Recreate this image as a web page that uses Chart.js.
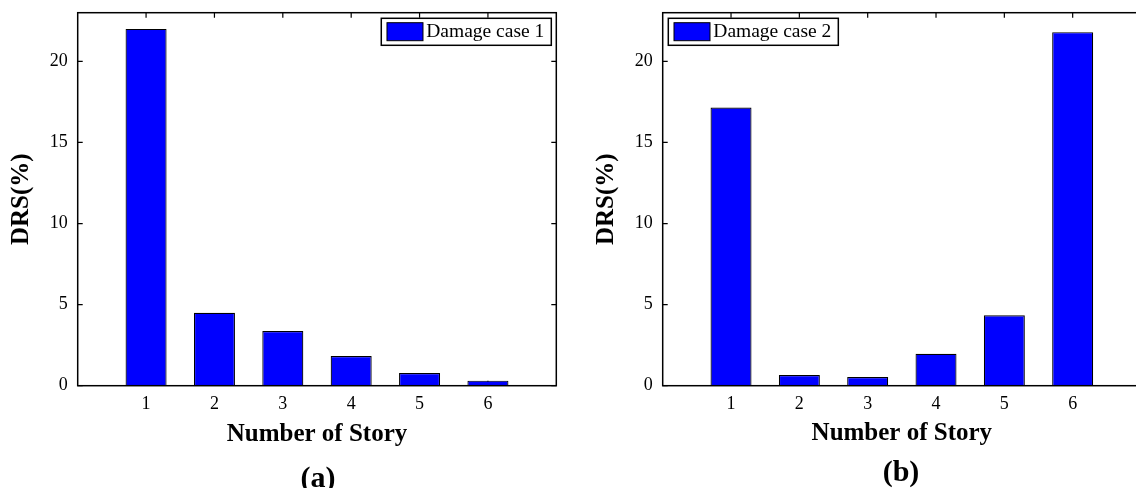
<!DOCTYPE html>
<html><head><meta charset="utf-8">
<script src="https://cdn.jsdelivr.net/npm/chart.js@4"></script>
<style>
html,body{margin:0;padding:0;background:#fff;width:1136px;height:488px;overflow:hidden;position:relative;}
#wrapA{position:absolute;left:0;top:0;width:570px;height:488px;}
#wrapB{position:absolute;left:570px;top:0;width:566px;height:488px;overflow:hidden;}
canvas{display:block;}
.cap{position:absolute;font:bold 30px 'Liberation Serif','Times New Roman',serif;line-height:30px;transform:translateX(-50%);white-space:nowrap;color:#000;}
</style></head><body>
<div id="wrapA"><canvas id="cA" width="570" height="488"></canvas></div>
<div id="wrapB"><canvas id="cB" width="580" height="488"></canvas></div>
<div class="cap" style="left:318px;top:462px">(a)</div>
<div class="cap" style="left:901px;top:456px">(b)</div>
<script>
const categories = [1, 2, 3, 4, 5, 6];
const case1Values = [22.0, 4.5, 3.37, 1.83, 0.78, 0.31];
const case2Values = [17.15, 0.66, 0.54, 1.97, 4.34, 21.8];
const yTicks = [0, 5, 10, 15, 20];
const seriesLabels = ['Damage case 1', 'Damage case 2'];
const xTitle = 'Number of Story';
const yTitle = 'DRS(%)';

const FONT = "'Liberation Serif','Times New Roman',serif";

const framePlugin = {
  id: 'frame',
  beforeDatasetsDraw(chart) {
    const {ctx, chartArea: a, scales: {x, y}} = chart;
    const L = 5;
    ctx.save();
    ctx.strokeStyle = '#000';
    ctx.lineWidth = 1.2;
    ctx.beginPath();
    categories.forEach(v => {
      const px = x.getPixelForValue(v);
      ctx.moveTo(px, a.bottom); ctx.lineTo(px, a.bottom - L);
      ctx.moveTo(px, a.top); ctx.lineTo(px, a.top + L);
    });
    yTicks.forEach(v => {
      const py = y.getPixelForValue(v);
      ctx.moveTo(a.left, py); ctx.lineTo(a.left + L, py);
      ctx.moveTo(a.right, py); ctx.lineTo(a.right - L, py);
    });
    ctx.stroke();
    ctx.restore();
  },
  afterDatasetsDraw(chart, args, opts) {
    const {ctx, chartArea: a} = chart;
    ctx.save();
    ctx.strokeStyle = '#000';
    ctx.lineWidth = 1.5;
    ctx.strokeRect(a.left, a.top, a.right - a.left, a.bottom - a.top);
    const ds = chart.data.datasets[0];
    ctx.font = "19.5px " + FONT;
    const tw = ctx.measureText(ds.label).width;
    const bw = 45 + tw + 7, bh = 27;
    const bx = opts.side === 'right' ? a.right - 5 - bw : a.left + 5.6;
    const by = a.top + 5.6;
    ctx.fillStyle = '#fff';
    ctx.fillRect(bx, by, bw, bh);
    ctx.lineWidth = 1.5;
    ctx.strokeRect(bx, by, bw, bh);
    ctx.fillStyle = ds.backgroundColor;
    ctx.fillRect(bx + 5.7, by + 4.4, 36, 18);
    ctx.lineWidth = 1;
    ctx.strokeRect(bx + 5.7, by + 4.4, 36, 18);
    ctx.fillStyle = '#000';
    ctx.textBaseline = 'middle';
    ctx.textAlign = 'left';
    ctx.fillText(ds.label, bx + 45, by + bh / 2);
    ctx.restore();
  }
};

function zeroPad(s) { s.paddingLeft = 0; s.paddingRight = 0; s.paddingTop = 0; s.paddingBottom = 0; }

function makeChart(id, values, label, o) {
  return new Chart(document.getElementById(id), {
    type: 'bar',
    data: {
      datasets: [{
        label: label,
        data: categories.map((c, i) => ({x: c, y: values[i]})),
        backgroundColor: '#0000ff',
        borderColor: '#000',
        borderWidth: 1.2,
        barPercentage: 0.6,
        categoryPercentage: 1
      }]
    },
    options: {
      responsive: false,
      animation: false,
      devicePixelRatio: 1,
      layout: {padding: {top: 12.7, right: o.padRight, bottom: 0, left: 0}},
      plugins: {legend: {display: false}, tooltip: {enabled: false}, frame: {side: o.side}},
      scales: {
        x: {
          type: 'linear', min: 0, max: 7, offset: false,
          grid: {display: false, drawTicks: false, offset: false}, border: {display: false},
          afterBuildTicks: s => { s.ticks = categories.map(v => ({value: v})); },
          afterFit: s => { s.height = 488 - 385.7; zeroPad(s); },
          ticks: {padding: 8, color: '#000', font: {family: FONT, size: 18}, callback: v => String(v)},
          title: {display: true, text: xTitle, color: '#000', font: {family: FONT, size: 25, weight: 'bold'}, padding: {top: 0, bottom: o.xTitlePad}}
        },
        y: {
          min: 0, max: 23,
          grid: {display: false, drawTicks: false}, border: {display: false},
          afterBuildTicks: s => { s.ticks = yTicks.map(v => ({value: v})); },
          afterFit: s => { s.width = o.yWidth; zeroPad(s); },
          ticks: {padding: 10, color: '#000', font: {family: FONT, size: 18}, callback: v => String(v)},
          title: {display: true, text: yTitle, color: '#000', font: {family: FONT, size: 25, weight: 'bold'}, padding: {top: o.yTitlePad, bottom: 0}}
        }
      }
    },
    plugins: [framePlugin]
  });
}

makeChart('cA', case1Values, seriesLabels[0], {padRight: 570 - 556.3, side: 'right', xTitlePad: 38, yWidth: 77.7, yTitlePad: 6.5});
makeChart('cB', case2Values, seriesLabels[1], {padRight: 9, side: 'left', xTitlePad: 39, yWidth: 92.7, yTitlePad: 21.5});
</script>
</body></html>
